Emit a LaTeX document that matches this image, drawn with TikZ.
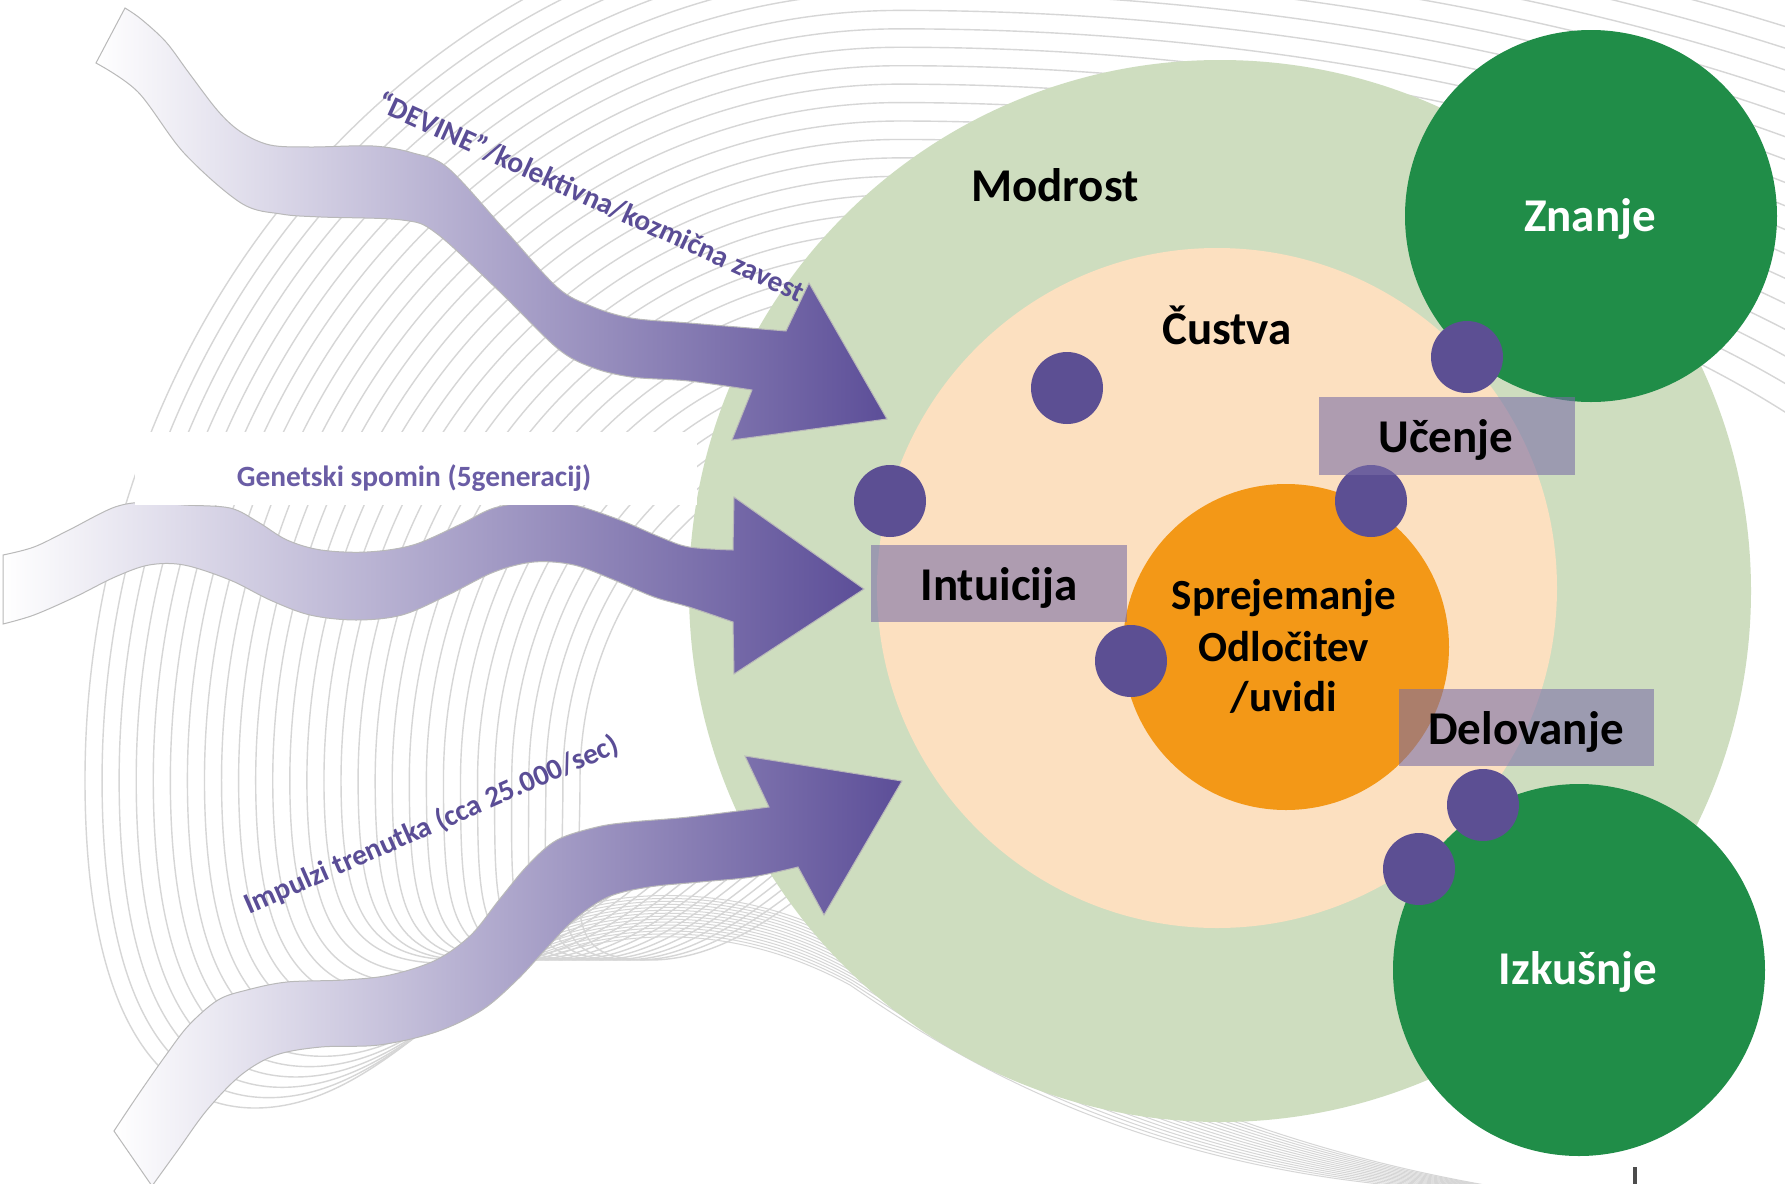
\documentclass[tikz,border=0pt]{standalone}
\usepackage{fontspec}
\setmainfont{Carlito}
\definecolor{wisdom}{RGB}{206,221,191}
\definecolor{peach}{RGB}{252,224,192}
\definecolor{orangec}{RGB}{243,152,23}
\definecolor{dgreen}{RGB}{32,141,72}
\definecolor{dotc}{RGB}{92,79,147}
\definecolor{boxc}{RGB}{121,109,166}
\definecolor{arrowend}{RGB}{92,78,152}
\definecolor{labelc}{RGB}{90,77,150}
\definecolor{labelg}{RGB}{106,93,165}
\definecolor{bgline}{RGB}{214,214,214}
\begin{document}
\begin{tikzpicture}[x=0.5pt,y=-0.5pt,
  bgl/.style={draw=bgline,line width=0.7pt},
  bgthin/.style={draw=bgline,line width=0.5pt},
  flowarrow/.style={left color=white,right color=arrowend,draw=gray!55,line width=0.5pt},
  disc/.style={circle,fill=dotc,minimum size=36pt,inner sep=0pt},
  bigdisc/.style={circle,fill=dgreen,minimum size=186pt,inner sep=0pt},
  tagbox/.style={fill=boxc,fill opacity=0.59,inner sep=0pt},
  lbl/.style={font=\fontsize{23.5}{28}\selectfont\bfseries,text=black,inner sep=0pt},
  olbl/.style={font=\fontsize{21.5}{25}\selectfont\bfseries,text=black,inner sep=0pt},
  albl/.style={font=\fontsize{14.7}{17}\selectfont\bfseries,text=labelc,inner sep=0pt}]
\useasboundingbox (0,0) rectangle (1785,1184);
\fill[white] (0,0) rectangle (1785,1184);
% background line pattern
\begin{scope}
\clip (0,0) rectangle (1785,1184);
\foreach \i in {0,...,29}{
  \pgfmathsetmacro{\s}{\i/29}
  \pgfmathsetmacro{\rx}{815-495*\s}
  \pgfmathsetmacro{\ryu}{1.08*\rx}
  \pgfmathsetmacro{\rxr}{2.1*\rx}
  \pgfmathsetmacro{\xL}{900-\rx}
  \pgfmathsetmacro{\xB}{\xL+170-100*\s}
  \pgfmathsetmacro{\yB}{max(1108-300*\s,960)}
  \pgfmathsetmacro{\yC}{780+0.75*(\yB-780)}
  \draw[bgl] (\xL,780) arc[start angle=180,end angle=270,x radius=\rx,y radius=\ryu];
  \ifnum\i<17
    \draw[bgl] (900,780-\ryu) arc[start angle=270,end angle=360,x radius=\rxr,y radius=\ryu];
  \fi
  \draw[bgl] (\xL,780) .. controls (\xL,\yC) and (\xB-90,\yB) .. (\xB,\yB)
     .. controls (\xB+80,\yB) and (\xB+150,\yB-60) .. (\xB+230,\yB-130);
}
\foreach \j in {0,...,14}{
  \pgfmathsetmacro{\t}{\j/14}
  \draw[bgthin] (500,975-30*\t) .. controls (610-20*\t,925-50*\t) and (730+30*\t,920-40*\t) .. (850+20*\t,985-30*\t)
     .. controls (960+40*\t,1060-60*\t) and (1160+20*\t,1190-50*\t) .. (1525+3*\t,1192);
}
\end{scope}
% circles
\node[circle,fill=wisdom,minimum size=531pt,inner sep=0pt] (wis) at (1220,591) {};
\node[circle,fill=peach,minimum size=340pt,inner sep=0pt] (emo) at (1217,588) {};
\node[circle,fill=orangec,minimum size=163pt,inner sep=0pt] (core) at (1286,647) {};
\node[bigdisc] (know) at (1591,216) {};
\node[bigdisc] (exp) at (1579,970) {};
% arrows
\shadedraw[flowarrow] plot[smooth,tension=0.55] coordinates {(125,8) (141,19) (166,42) (189,73) (218,111) (241,132) (270,145) (310,147) (373,146) (413,153) (448,168) (505,230) (557,287) (591,306) (631,318) (689,323) (786,331)}
  -- (809,283) -- (887,419) -- (732,440)
  -- plot[smooth,tension=0.55] coordinates {(752,390) (689,381) (631,377) (591,367) (557,348) (499,291) (436,233) (402,220) (321,217) (281,214) (241,203) (184,153) (138,92) (96,63)} -- cycle;
\shadedraw[flowarrow] plot[smooth,tension=0.55] coordinates {(3,555) (34,547) (69,530) (115,507) (149,502) (184,505) (230,508) (258,522) (287,540) (321,550) (367,552) (413,545) (459,525) (494,508) (534,502) (574,505) (620,520) (660,537) (689,547) (733,550)}
  -- (734,497) -- (864,589) -- (734,674)
  -- plot[smooth,tension=0.55] coordinates {(733,622) (689,607) (654,597) (614,580) (574,565) (534,562) (494,572) (448,595) (402,615) (356,620) (310,615) (270,600) (230,580) (184,565) (149,565) (115,577) (75,597) (34,615) (3,624)} -- cycle;
\shadedraw[flowarrow] plot[smooth,tension=0.55] coordinates {(114,1131) (138,1095) (166,1055) (189,1025) (218,1000) (247,990) (287,982) (344,980) (390,975) (436,960) (471,935) (499,900) (528,865) (557,840) (597,827) (631,822) (689,817) (769,807)}
  -- (745,756) -- (902,781) -- (824,915)
  -- plot[smooth,tension=0.55] coordinates {(798,867) (752,877) (700,882) (649,887) (608,897) (574,920) (545,950) (517,980) (482,1010) (436,1032) (379,1045) (321,1047) (276,1055) (241,1075) (207,1110) (178,1150) (152,1186)} -- cycle;
% white label band
\fill[white] (135,432) rectangle (697,505);
% dots
\node[disc] (p1) at (1067,388) {};
\node[disc] (p2) at (890,501) {};
\node[disc] (p3) at (1467,357) {};
\node[disc] (p4) at (1371,501) {};
\node[disc] (p5) at (1131,661) {};
\node[disc] (p6) at (1483,805) {};
\node[disc] (p7) at (1419,869) {};
% boxes
\node[tagbox,minimum width=128pt,minimum height=39pt] (bu) at (1447,436) {};
\node[tagbox,minimum width=128pt,minimum height=38.5pt] (bi) at (999,583.5) {};
\node[tagbox,minimum width=127.5pt,minimum height=38.5pt] (bd) at (1526.5,727.5) {};
% texts
\node[lbl,anchor=base] (tmod) at (1055,201) {Modrost};
\node[lbl,anchor=base] (tcus) at (1227,344) {Čustva};
\node[lbl,anchor=base,text=white] (tzn) at (1590,231) {Znanje};
\node[lbl,anchor=base,text=white] (tiz) at (1578,984) {Izkušnje};
\node[lbl,anchor=base] (tuc) at (1446,452) {Učenje};
\node[lbl,anchor=base] (tin) at (999,600) {Intuicija};
\node[lbl,anchor=base] (tdel) at (1526,744) {Delovanje};
\node[olbl,anchor=base] (to1) at (1284,609) {Sprejemanje};
\node[olbl,anchor=base] (to2) at (1284,661) {Odločitev};
\node[olbl,anchor=base] (to3) at (1284,711) {/uvidi};
\node[albl,rotate=-24.5,anchor=base] (tdev) at (587,206) {“DEVINE”/kolektivna/kozmična zavest};
\node[albl,anchor=base,text=labelg] (tgen) at (414,486) {Genetski spomin (5generacij)};
\node[albl,rotate=23.7,anchor=base] (timp) at (435,833) {Impulzi trenutka (cca 25.000/sec)};
% small mark bottom right
\draw[line width=2pt,draw=black!70] (1635,1167) -- (1635,1184);
\end{tikzpicture}
\end{document}
